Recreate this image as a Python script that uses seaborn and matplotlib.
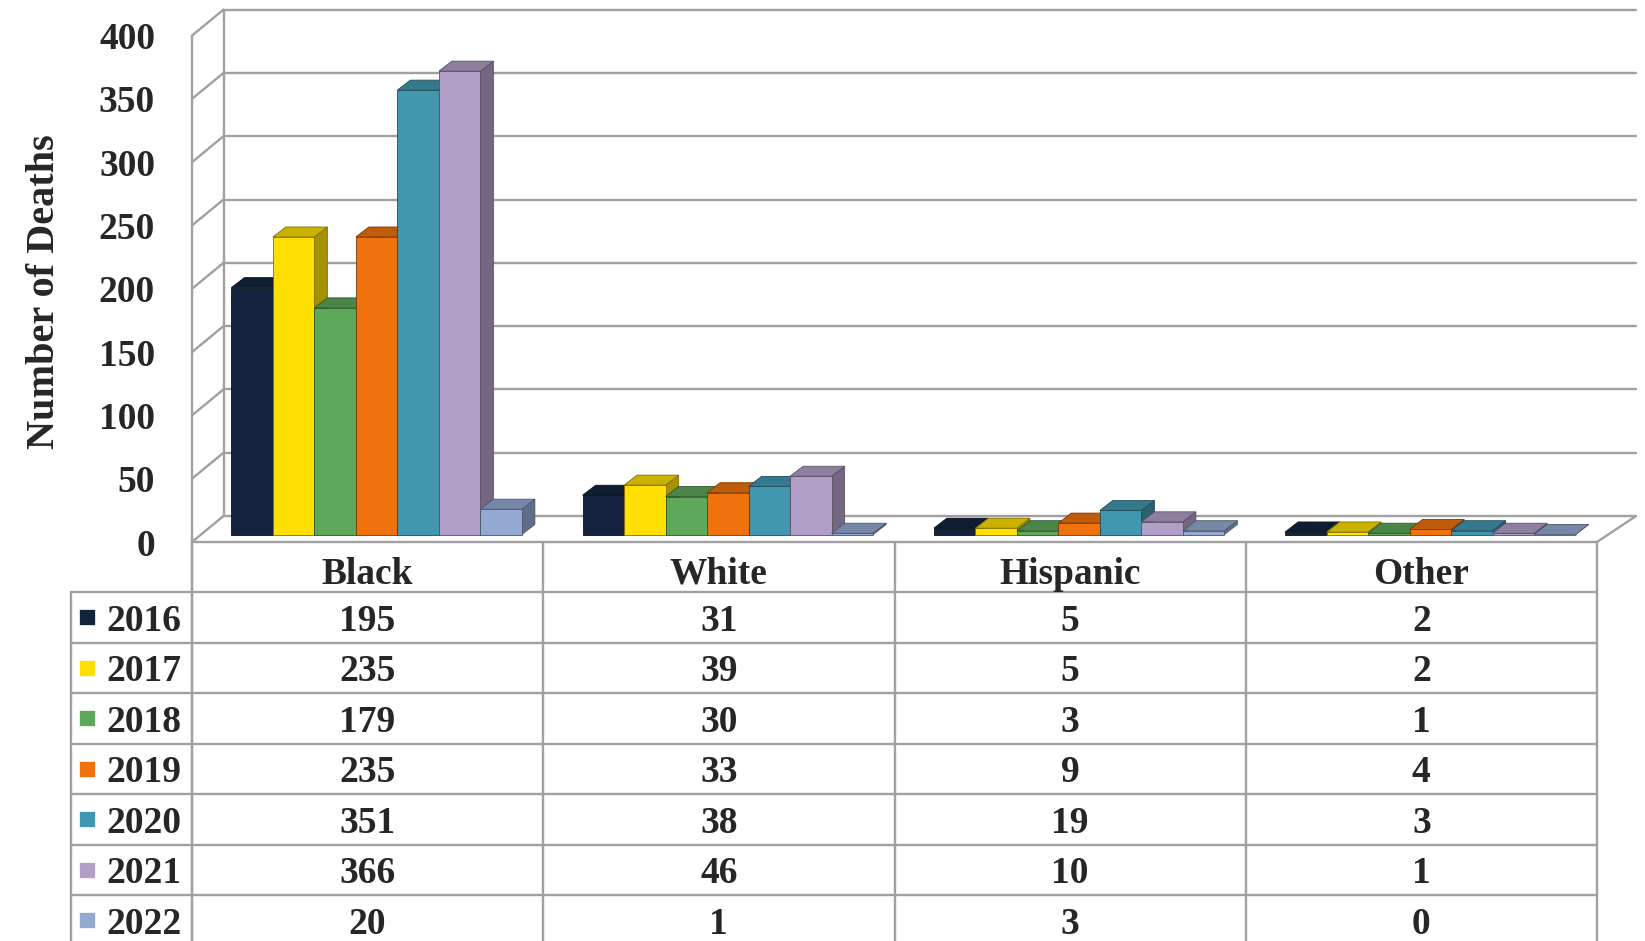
import numpy as np
import pandas as pd
import seaborn as sns
import matplotlib.pyplot as plt
import matplotlib.colors as mcolors
from matplotlib.patches import Polygon, Rectangle

# Data
races = ['Black', 'White', 'Hispanic', 'Other']
years = ['2016', '2017', '2018', '2019', '2020', '2021', '2022']
d2016 = [195, 31, 5, 2]
d2017 = [235, 39, 5, 2]
d2018 = [179, 30, 3, 1]
d2019 = [235, 33, 9, 4]
d2020 = [351, 38, 19, 3]
d2021 = [366, 46, 10, 1]
d2022 = [20, 1, 3, 0]
year_colors = ['#13233d', '#ffdf00', '#5ea85a', '#f0720c', '#4197b0', '#b29fc8', '#93a9d1']
y_ticks = [0, 50, 100, 150, 200, 250, 300, 350, 400]

rows = [d2016, d2017, d2018, d2019, d2020, d2021, d2022]
df = pd.DataFrame([(r, y, v) for y, vals in zip(years, rows) for r, v in zip(races, vals)],
                  columns=['race', 'year', 'deaths'])

sns.set_theme(style='white')
plt.rcParams['font.family'] = ['Liberation Serif', 'DejaVu Serif']
plt.rcParams['font.weight'] = 'bold'

W, H = 1645, 941
X0, X1 = 192, 1597          # front edge of floor (pixels)
Y0 = 542                    # front floor line (pixels from top)
K50 = 63.3                  # pixels per 50 deaths
BX, BY = 31.5, 26           # depth of the back wall
PX, PY = 9, 7.5             # depth of the bar plane
XR = 1636                   # right end of back wall
gray = '#a0a0a0'
fs = 27
tdy = 4                     # small downward nudge for text

fig = plt.figure(figsize=(W / 100, H / 100), dpi=100)

# pixel axes for walls and the data table
tax = fig.add_axes([0, 0, 1, 1], zorder=0)
tax.set_xlim(0, W)
tax.set_ylim(H, 0)
tax.set_axis_off()

def ypix(v, back=0.0):
    return Y0 - back - v * K50 / 50

for v in y_ticks:
    tax.plot([X0, X0 + BX], [ypix(v), ypix(v, BY)], color=gray, lw=1.7)
    tax.plot([X0 + BX, XR], [ypix(v, BY), ypix(v, BY)], color=gray, lw=1.7)
    tax.text(155, ypix(v) + tdy, str(v), ha='right', va='center', fontsize=fs, fontweight='bold')
tax.plot([X0 + BX, X0 + BX], [ypix(0, BY), ypix(400, BY)], color=gray, lw=1.7)
tax.plot([X0, X0], [ypix(400), H], color=gray, lw=1.7)
tax.plot([X0, X1], [Y0, Y0], color=gray, lw=1.7)
tax.plot([X1, XR], [Y0, ypix(0, BY)], color=gray, lw=1.7)

tax.text(45, 292, 'Number of Deaths', rotation=90, ha='center', va='center',
         fontsize=29, fontweight='bold')

# table
col_w = (X1 - X0) / len(races)
row_top = 592
row_h = 50.5
for i in range(len(races) + 1):
    tax.plot([X0 + i * col_w] * 2, [Y0, H], color=gray, lw=1.7)
tax.plot([71, 71], [row_top, H], color=gray, lw=1.7)
for j in range(len(years) + 1):
    tax.plot([71, X1], [row_top + j * row_h] * 2, color=gray, lw=1.7)
for i, r in enumerate(races):
    tax.text(X0 + (i + 0.5) * col_w, 570 + tdy, r, ha='center', va='center',
             fontsize=fs, fontweight='bold')
for j, (y, vals, c) in enumerate(zip(years, rows, year_colors)):
    yc = row_top + (j + 0.5) * row_h
    tax.add_patch(Rectangle((79, yc - 8), 16, 16, facecolor=c, edgecolor='white', lw=0.5))
    tax.text(106, yc + tdy, y, ha='left', va='center', fontsize=fs, fontweight='bold')
    for i, v in enumerate(vals):
        tax.text(X0 + (i + 0.5) * col_w, yc + tdy, str(v), ha='center', va='center',
                 fontsize=fs, fontweight='bold')

# bar plane axes
left = (X0 + PX) / W
bottom = 1 - (Y0 - PY) / H
ax = fig.add_axes([left, bottom, (X1 - X0) / W, 8 * K50 / H], zorder=1)
sns.barplot(data=df, x='race', y='deaths', hue='year', palette=year_colors,
            width=0.827, saturation=1, legend=False, ax=ax)
ax.set_xlim(-0.5, 3.5)
ax.set_ylim(0, 400)
ax.set_axis_off()

# fake 3D: top and side faces
ddx = 13 / col_w
ddy = 10 / (K50 / 50)

def shade(c, f):
    r, g, b = mcolors.to_rgb(c)
    return (r * f, g * f, b * f)

bars = sorted([p for p in ax.patches if isinstance(p, Rectangle)], key=lambda p: p.get_x())
for k, p in enumerate(bars):
    x, w, h = p.get_x(), p.get_width(), p.get_height()
    fc = p.get_facecolor()
    ec = shade(fc, 0.5)
    side = Polygon([(x + w, 0), (x + w + ddx, ddy), (x + w + ddx, h + ddy), (x + w, h)],
                   closed=True, facecolor=shade(fc, 0.65), edgecolor=ec, lw=0.6,
                   zorder=2 + 3 * k, clip_on=False)
    top = Polygon([(x, h), (x + ddx, h + ddy), (x + w + ddx, h + ddy), (x + w, h)],
                  closed=True, facecolor=shade(fc, 0.8), edgecolor=ec, lw=0.6,
                  zorder=3 + 3 * k, clip_on=False)
    ax.add_patch(side)
    ax.add_patch(top)
    p.set_zorder(4 + 3 * k)
    p.set_edgecolor(ec)
    p.set_linewidth(0.6)
    p.set_clip_on(False)

fig.savefig('out.png', dpi=100)
